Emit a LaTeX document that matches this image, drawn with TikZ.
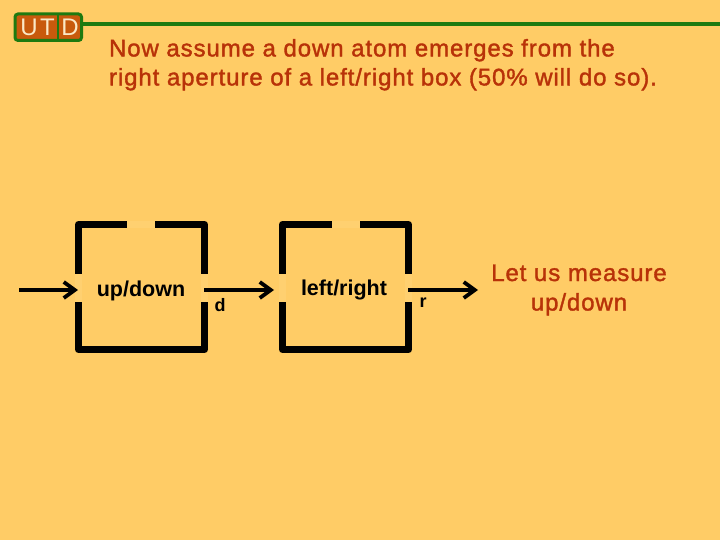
\documentclass[tikz,border=0pt]{standalone}
\usepackage{xcolor}
\usepackage{fontspec}
\setmainfont{Liberation Sans}
\newfontfamily\headfont[LetterSpace=3.8,FakeBold=1.5]{Liberation Sans}
\usetikzlibrary{arrows.meta}
\definecolor{slidebg}{HTML}{FFCC66}
\definecolor{gapfill}{HTML}{FFD070}
\definecolor{headred}{HTML}{B83208}
\definecolor{utdgreen}{HTML}{1E7A10}
\definecolor{utdorange}{HTML}{C85A0C}
\definecolor{utdcream}{HTML}{FBE9C6}
\tikzset{boxwall/.style={line width=7pt,line join=round,line cap=butt},
         gap/.style={fill=gapfill,draw=none},
         beam/.style={line width=3.4pt,-{Straight Barb[length=11pt,width=16pt,line width=3.8pt]}},
         boxlabel/.style={font=\bfseries\fontsize{21.5}{24}\selectfont},
         sidelabel/.style={font=\bfseries\fontsize{18}{20}\selectfont},
         headtext/.style={text=headred,font=\headfont\fontsize{24}{29}\selectfont,align=left,anchor=north west},
         measuretext/.style={text=headred,font=\headfont\fontsize{24}{29.5}\selectfont,align=center},
         logoletter/.style={text=utdcream,font=\fontsize{24}{24}\selectfont}}
\begin{document}
\begin{tikzpicture}[x=1pt,y=-1pt]
\useasboundingbox[fill=slidebg] (0,0) rectangle (720,540);
% logo and rule
\draw[utdgreen,line width=3.5pt] (80,24)--(720,24);
\draw[utdgreen,fill=utdorange,line width=3pt,rounded corners=3pt] (15,14) rectangle (81.5,40.5);
\draw[utdgreen,line width=2.5pt] (58,14)--(58,40.5);
\node[logoletter] (logoU) at (29,27) {U};
\node[logoletter] (logoT) at (47.5,27) {T};
\node[logoletter] (logoD) at (70,27) {D};
% heading
\node[headtext] (head) at (105.5,35.5) {Now assume a down atom emerges from the\\right aperture of a left/right box (50\% will do so).};
% first box
\draw[boxwall] (127,224.5)--(78.5,224.5)--(78.5,274);
\draw[boxwall] (78.5,302)--(78.5,349.5)--(204.5,349.5)--(204.5,302);
\draw[boxwall] (204.5,274)--(204.5,224.5)--(155,224.5);
\fill[gap] (127,221) rectangle (155,228);
\fill[gap] (75,274) rectangle (82,302);
\fill[gap] (201,274) rectangle (208,302);
% second box
\draw[boxwall] (332,224.5)--(282.5,224.5)--(282.5,274);
\draw[boxwall] (282.5,302)--(282.5,349.5)--(408.5,349.5)--(408.5,302);
\draw[boxwall] (408.5,274)--(408.5,224.5)--(360,224.5);
\fill[gap] (332,221) rectangle (360,228);
\fill[gap] (279,274) rectangle (286,302);
\fill[gap] (405,274) rectangle (412,302);
% labels
\node[boxlabel] (updown) at (141,290.5) {up/down};
\node[boxlabel] (leftright) at (344,290) {left/right};
\node[sidelabel] (d) at (220,305) {d};
\node[sidelabel] (r) at (423,303) {r};
\node[measuretext] (measure) at (579,290) {Let us measure\\up/down};
% beams
\coordinate (source) at (19,290);
\coordinate (inone) at (78,290);
\coordinate (outone) at (204,290);
\coordinate (intwo) at (274,290);
\coordinate (outtwo) at (408,290);
\coordinate (beamend) at (478,290);
\draw[beam] (source)--(inone);
\draw[beam] (outone)--(intwo);
\draw[beam] (outtwo)--(beamend);
\end{tikzpicture}
\end{document}
